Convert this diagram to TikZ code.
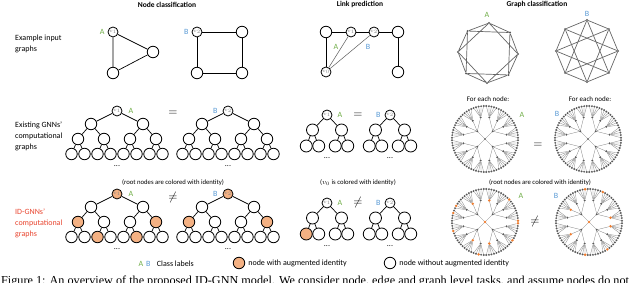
\documentclass[tikz,border=0pt]{standalone}
\usepackage{fontspec}
\setmainfont{Carlito}
\newfontfamily\capfont{Liberation Serif}
\usetikzlibrary{positioning,calc}
\definecolor{idgreen}{HTML}{70AD47}
\definecolor{idblue}{HTML}{5B9BD5}
\definecolor{idorange}{HTML}{F4B183}
\definecolor{iddot}{HTML}{ED7D31}
\definecolor{idred}{HTML}{E8442E}
\definecolor{gdark}{HTML}{595959}
\tikzset{
  tnode/.style ={circle, draw=black, line width=0.8pt, fill=white,
                 minimum size=11.5pt, inner sep=0pt},
  rnode/.style ={tnode, minimum size=10pt, text=gray,
                 font=\fontsize{5}{5}\selectfont},
  lnode/.style ={tnode, minimum size=12pt},
  hl/.style    ={fill=idorange},
  tedge/.style ={line width=0.7pt},
  gdot/.style  ={circle, fill=gdark, inner sep=0pt, minimum size=2.2pt},
  odot/.style  ={gdot, fill=iddot, minimum size=2.8pt},
  redge/.style ={line width=0.3pt, draw=gray},
  gedge/.style ={line width=0.7pt, draw=gray!80!black},
  lbl/.style   ={font=\fontsize{8}{11}\selectfont, align=left, anchor=west,
                 inner sep=0pt},
  ttl/.style   ={font=\fontsize{7.5}{9}\selectfont\bfseries},
  cls/.style   ={font=\fontsize{8}{10}\selectfont, inner sep=1pt},
  note/.style  ={font=\fontsize{6.7}{8}\selectfont},
  rel/.style   ={font=\fontsize{12}{12}\selectfont},
  ia-0/.style=hl, ia-1-1/.style=hl, ia-2-2/.style=hl,
  ia-1-2-1/.style=hl, ia-2-1-2/.style=hl,
  ib-0/.style=hl, ib-1-1/.style=hl, ib-2-2/.style=hl,
  ka-1-1/.style=hl,
  ha-0/.style=odot, ha-1-2/.style=odot, ha-2-3/.style=odot,
  ha-3-1/.style=odot, ha-4-4/.style=odot,
  ha-1-1-3/.style=odot, ha-1-4-2/.style=odot, ha-2-1-4/.style=odot,
  ha-2-2-2/.style=odot, ha-3-3-1/.style=odot, ha-3-4-5/.style=odot,
  ha-4-2-3/.style=odot, ha-4-1-1/.style=odot,
  hb-0/.style=odot, hb-1-3/.style=odot, hb-2-2/.style=odot,
  hb-3-4/.style=odot, hb-4-1/.style=odot,
  hb-1-1-2/.style=odot, hb-2-4-4/.style=odot, hb-3-2-1/.style=odot,
  hb-4-3-3/.style=odot
}
\newcommand{\ntree}[4]{%
  \node[rnode, #1-0/.try] (#1-0) at (#2,#3) {$v_{#4}$};
  \foreach \a in {1,2}{
    \node[tnode, #1-\a/.try] (#1-\a) at ({#2+(\a-1.5)*52},{#3+13}) {};
    \draw[tedge] (#1-0) -- (#1-\a);
    \foreach \b in {1,2}{
      \node[tnode, #1-\a-\b/.try] (#1-\a-\b)
        at ({#2+(\a-1.5)*52+(\b-1.5)*26},{#3+28}) {};
      \draw[tedge] (#1-\a) -- (#1-\a-\b);
      \foreach \c in {1,2}{
        \node[tnode, #1-\a-\b-\c/.try] (#1-\a-\b-\c)
          at ({#2+(\a-1.5)*52+(\b-1.5)*26+(\c-1.5)*13},{#3+43}) {};
        \draw[tedge] (#1-\a-\b) -- (#1-\a-\b-\c);
      }
    }
  }
  \node[cls] (#1-dots) at (#2,{#3+55}) {...};
}
\newcommand{\ltree}[4]{%
  \node[rnode, #1-0/.try] (#1-0) at (#2,#3) {$v_{#4}$};
  \foreach \a in {1,2}{
    \node[lnode, #1-\a/.try] (#1-\a) at ({#2+(\a-1.5)*29},{#3+15}) {};
    \draw[tedge] (#1-0) -- (#1-\a);
    \foreach \b in {1,2}{
      \node[lnode, #1-\a-\b/.try] (#1-\a-\b)
        at ({#2+(\a-1.5)*29+(\b-1.5)*12.5},{#3+31}) {};
      \draw[tedge] (#1-\a) -- (#1-\a-\b);
    }
  }
  \node[cls] (#1-dots) at (#2,{#3+43}) {...};
}
\newcommand{\radtree}[3]{%
  \begin{scope}[shift={(#2,#3)}]
    \node[gdot, #1-0/.try] (#1-0) at (0,0) {};
    \foreach \a in {1,...,4}{
      \node[gdot, #1-\a/.try] (#1-\a) at ({45+90*\a}:11) {};
      \draw[redge] (#1-0) -- (#1-\a);
      \foreach \b in {1,...,4}{
        \node[gdot, #1-\a-\b/.try] (#1-\a-\b)
          at ({45+90*\a+(\b-2.5)*22.5}:22) {};
        \draw[redge] (#1-\a) -- (#1-\a-\b);
        \foreach \c in {1,...,5}{
          \node[gdot, #1-\a-\b-\c/.try] (#1-\a-\b-\c)
            at ({45+90*\a+(\b-2.5)*22.5+(\c-3)*4.5}:33) {};
          \draw[redge] (#1-\a-\b) -- (#1-\a-\b-\c);
        }
      }
    }
  \end{scope}}
\begin{document}
\begin{tikzpicture}[x=1pt, y=-1pt]
\useasboundingbox (0,0) rectangle (640,283);
\clip (0,0) rectangle (640,283);
\node[ttl] (t-node) at (167,4.5) {Node classification};
\node[ttl] (t-link) at (360,4.5) {Link prediction};
\node[ttl] (t-graph) at (537,4.5) {Graph classification};
\node[lbl] (r-in) at (15,43.5) {Example input\\graphs};
\node[lbl] (r-gnn) at (15,136) {Existing GNNs'\\computational\\graphs};
\node[lbl, text=idred] (r-id) at (15,223) {ID-GNNs'\\computational\\graphs};
\node[rnode] (ea-v1) at (113,32) {$v_1$};
\node[tnode] (ea-r) at (153,52) {};
\node[tnode] (ea-b) at (113,73) {};
\draw[tedge] (ea-v1) -- (ea-r) -- (ea-b) -- (ea-v1);
\node[cls, text=idgreen, left=2pt of ea-v1] (ea-lab) {A};
\node[rnode] (eb-v2) at (197,32) {$v_2$};
\node[tnode] (eb-tr) at (242,32) {};
\node[tnode] (eb-br) at (242,73) {};
\node[tnode] (eb-bl) at (197,73) {};
\draw[tedge] (eb-v2) -- (eb-tr) -- (eb-br) -- (eb-bl) -- (eb-v2);
\node[cls, text=idblue, left=2pt of eb-v2] (eb-lab) {B};
\node[tnode] (lk-tl) at (326,32) {};
\node[rnode] (lk-v1) at (351,32) {$v_1$};
\node[rnode] (lk-v2) at (374,32) {$v_2$};
\node[tnode] (lk-tr) at (398,32) {};
\node[rnode] (lk-v0) at (326,72) {$v_0$};
\node[tnode] (lk-br) at (398,72) {};
\draw[tedge] (lk-v0) -- (lk-tl) -- (lk-v1) -- (lk-v2) -- (lk-tr) -- (lk-br);
\draw[line width=0.5pt, draw=gray!70!black] (lk-v0) -- (lk-v1) (lk-v0) -- (lk-v2);
\node[cls, text=idgreen] (lk-a) at (336,47) {A};
\node[cls, text=idblue] (lk-b) at (368,47) {B};
\begin{scope}[shift={(488,53)}]
  \foreach \i in {0,...,7} \node[gdot] (oa-\i) at ({92+45*\i}:30) {};
\end{scope}
\foreach \i in {0,...,7}{
  \pgfmathtruncatemacro\j{mod(\i+1,8)}
  \pgfmathtruncatemacro\k{mod(\i+2,8)}
  \draw[gedge] (oa-\i) -- (oa-\j) (oa-\i) -- (oa-\k);
}
\begin{scope}[shift={(587,51)}]
  \foreach \i in {0,...,7} \node[gdot] (ob-\i) at ({90+45*\i}:31) {};
\end{scope}
\foreach \i in {0,...,7}{
  \pgfmathtruncatemacro\j{mod(\i+1,8)}
  \pgfmathtruncatemacro\k{mod(\i+3,8)}
  \draw[gedge] (ob-\i) -- (ob-\j) (ob-\i) -- (ob-\k);
}
\node[cls, text=idgreen] (oa-lab) at (487,15) {A};
\node[cls, text=idblue] (ob-lab) at (587,14) {B};
\ntree{na}{117}{111}{1}
\ntree{nb}{228}{111}{2}
\node[cls, text=idgreen, right=5pt of na-0] (na-lab) {A};
\node[cls, text=idblue, left=4pt of nb-0] (nb-lab) {B};
\node[rel] (eq-n) at (173,113) {$=$};
\ltree{la}{327}{115}{1}
\ltree{lb}{390}{115}{2}
\node[cls, text=idgreen, right=4pt of la-0] (la-lab) {A};
\node[cls, text=idblue, left=3pt of lb-0] (lb-lab) {B};
\node[rel] (eq-l) at (358,115) {$=$};
\node[note, font=\fontsize{7}{8}\selectfont] (fe-a) at (488,99) {For each node:};
\node[note, font=\fontsize{7}{8}\selectfont] (fe-b) at (590,99) {For each node:};
\radtree{ga}{485}{139}
\radtree{gb}{588}{139}
\node[cls, text=idgreen] (ga-lab) at (522,115) {A};
\node[cls, text=idblue] (gb-lab) at (557,114) {B};
\node[rel] (eq-g) at (538,145) {$=$};
\node[note] (nt-n) at (173,183) {(root nodes are colored with identity)};
\node[note] (nt-l) at (358,183) {($v_0$ is colored with identity)};
\node[note] (nt-g) at (540,183) {(root nodes are colored with identity)};
\ntree{ia}{117}{194}{1}
\ntree{ib}{228}{194}{2}
\node[cls, text=idgreen, right=5pt of ia-0] (ia-lab) {A};
\node[cls, text=idblue, left=4pt of ib-0] (ib-lab) {B};
\node[rel] (ne-n) at (173,198) {$\neq$};
\ltree{ka}{327}{203}{1}
\ltree{kb}{390}{203}{2}
\node[cls, text=idgreen, right=4pt of ka-0] (ka-lab) {A};
\node[cls, text=idblue, left=3pt of kb-0] (kb-lab) {B};
\node[rel] (ne-l) at (358,203) {$\neq$};
\radtree{ha}{485}{222}
\radtree{hb}{589}{222}
\node[cls, text=idgreen] (ha-lab) at (521,196) {A};
\node[cls, text=idblue] (hb-lab) at (556,196) {B};
\node[rel] (ne-g) at (535,222) {$\neq$};
\node[cls, text=idgreen] (lg-a) at (141,264) {A};
\node[cls, text=idblue, right=0.5pt of lg-a] (lg-b) {B};
\node[cls, right=4pt of lg-b] (lg-cls) {Class labels};
\node[tnode, hl] (lg-on) at (239,263) {};
\node[cls, right=2pt of lg-on] (lg-ont) {node with augmented identity};
\node[tnode] (lg-off) at (390,263) {};
\node[cls, right=2pt of lg-off] (lg-offt) {node without augmented identity};
\node[anchor=base west, inner sep=0pt, font=\capfont\fontsize{12.2}{14}\selectfont]
  (cap) at (1,284.5) {Figure 1: An overview of the proposed ID-GNN model. We consider node, edge and graph level tasks, and assume nodes do not};
\end{tikzpicture}
\end{document}
